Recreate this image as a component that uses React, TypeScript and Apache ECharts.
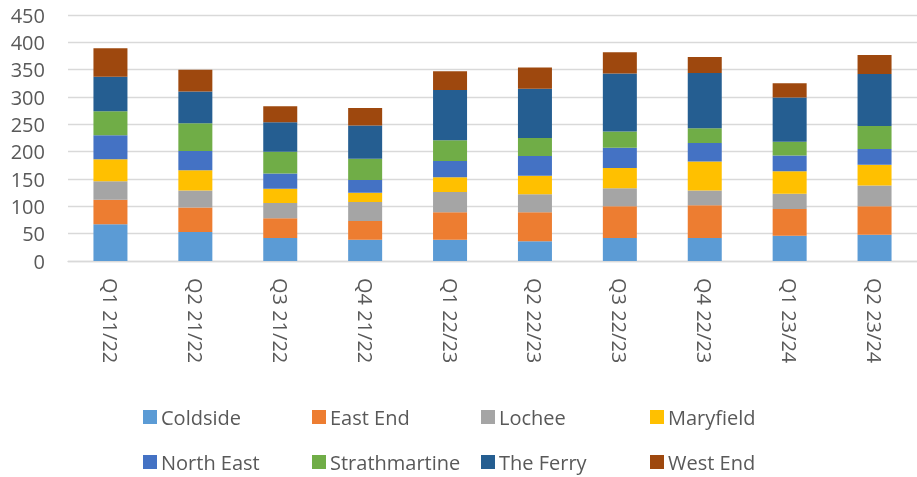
import React, { useEffect, useRef } from "react";
import * as echarts from "echarts";

const categories = ["Q1 21/22", "Q2 21/22", "Q3 21/22", "Q4 21/22", "Q1 22/23", "Q2 22/23", "Q3 22/23", "Q4 22/23", "Q1 23/24", "Q2 23/24"];
const seriesNames = ["Coldside", "East End", "Lochee", "Maryfield", "North East", "Strathmartine", "The Ferry", "West End"];
const colors = ["#5B9BD5", "#ED7D31", "#A5A5A5", "#FFC000", "#4472C4", "#70AD47", "#255E91", "#9E480E"];

const coldside = [67, 53, 42, 39, 39, 36, 42, 42, 46, 48];
const eastEnd = [45, 45, 36, 34, 50, 53, 58, 60, 49, 52];
const lochee = [34, 31, 28, 35, 37, 33, 33, 27, 28, 38];
const maryfield = [40, 37, 26, 17, 27, 34, 37, 53, 41, 38];
const northEast = [44, 35, 28, 23, 30, 36, 37, 34, 29, 29];
const strathmartine = [44, 51, 40, 39, 38, 33, 30, 27, 25, 42];
const theFerry = [63, 58, 54, 61, 92, 90, 106, 101, 81, 95];
const westEnd = [52, 40, 29, 32, 34, 39, 39, 29, 26, 35];

const seriesData = [coldside, eastEnd, lochee, maryfield, northEast, strathmartine, theFerry, westEnd];

const yTicks = { min: 0, max: 450, interval: 50 };

export default function App() {
  const ref = useRef<HTMLDivElement>(null);
  useEffect(() => {
    if (!ref.current) return;
    const chart = echarts.init(ref.current, null, { renderer: "svg" });
    const font = "'Open Sans', sans-serif";
    const textColor = "#595959";
    const legends = seriesNames.map((name, i) => ({
      data: [name],
      left: 143 + (i % 4) * 169,
      top: 407 + Math.floor(i / 4) * 45,
      orient: "horizontal",
      itemWidth: 14,
      itemHeight: 14,
      itemGap: 0,
      padding: 0,
      icon: "rect",
      selectedMode: false,
      textStyle: { color: textColor, fontSize: 20, fontFamily: font, padding: [0, 0, 0, -1] },
    }));
    chart.setOption({
      animation: false,
      color: colors,
      legend: legends,
      grid: { left: 68, top: 15, width: 855, height: 246, containLabel: false },
      xAxis: {
        type: "category",
        data: categories,
        axisLine: { show: true, lineStyle: { color: "#D9D9D9", width: 1.3 } },
        axisTick: { show: false },
        axisLabel: { rotate: -90, margin: 17, color: textColor, fontSize: 20, fontFamily: font, interval: 0 },
      },
      yAxis: {
        type: "value",
        min: yTicks.min,
        max: yTicks.max,
        interval: yTicks.interval,
        axisLine: { show: false },
        axisTick: { show: false },
        splitLine: { lineStyle: { color: "#D9D9D9", width: 1.3 } },
        axisLabel: { color: textColor, fontSize: 20, fontFamily: font, margin: 23 },
      },
      series: seriesNames.map((name, i) => ({
        name,
        type: "bar",
        stack: "total",
        barWidth: 34,
        data: seriesData[i],
        itemStyle: { color: colors[i] },
      })),
    });
    return () => chart.dispose();
  }, []);
  return <div ref={ref} style={{ position: "fixed", left: 0, top: 0, width: 917, height: 477 }} />;
}
